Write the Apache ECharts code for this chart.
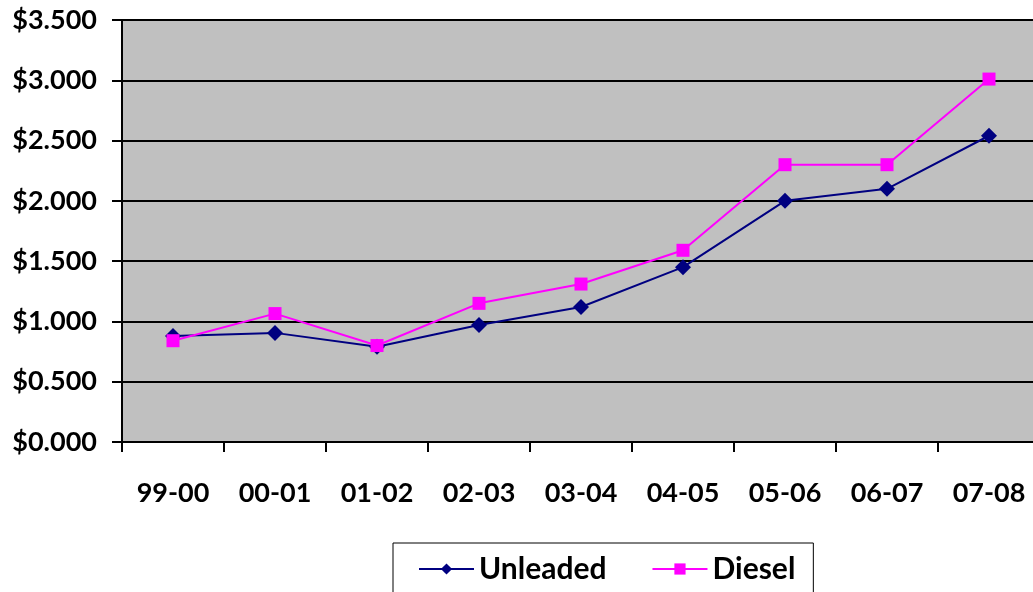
<!DOCTYPE html>
<html>
<head>
<meta charset="utf-8">
<script src="https://cdn.jsdelivr.net/npm/echarts@6/dist/echarts.min.js"></script>
<style>
  html, body { margin: 0; padding: 0; background: #fff; }
  #chart { width: 1033px; height: 592px; }
</style>
</head>
<body>
<div id="chart"></div>
<script>
const seasons = ['99-00', '00-01', '01-02', '02-03', '03-04', '04-05', '05-06', '06-07', '07-08']
const unleaded = [0.88, 0.905, 0.79, 0.97, 1.12, 1.45, 2.0, 2.1, 2.54]
const diesel = [0.84, 1.065, 0.80, 1.15, 1.31, 1.59, 2.30, 2.30, 3.01]
const yTicks = { min: 0, max: 3.5, step: 0.5 }

const font = 'Lato, "Open Sans", sans-serif'

const myChart = echarts.init(document.getElementById('chart'))

const option = {
  backgroundColor: '#fff',
  animation: false,
  grid: {
    left: 122,
    top: 20,
    width: 918,
    height: 422,
    outerBoundsMode: 'none',
    containLabel: false,
    show: true,
    backgroundColor: '#c0c0c0',
    borderColor: '#808080',
    borderWidth: 1
  },
  legend: {
    left: 393,
    top: 543,
    padding: [11, 18, 20, 25],
    itemWidth: 55,
    itemHeight: 14,
    itemGap: 45,
    borderColor: '#000',
    borderWidth: 1,
    textStyle: {
      fontFamily: font,
      fontWeight: 'bold',
      fontSize: 30,
      color: '#000'
    }
  },
  xAxis: {
    type: 'category',
    data: seasons,
    boundaryGap: true,
    axisLine: { lineStyle: { color: '#000', width: 2 } },
    axisTick: { show: true, length: 10, lineStyle: { color: '#000', width: 2 } },
    axisLabel: {
      interval: 0,
      margin: 38,
      fontFamily: font,
      fontWeight: 'bold',
      fontSize: 27,
      color: '#000'
    },
    splitLine: { show: false }
  },
  yAxis: {
    type: 'value',
    min: yTicks.min,
    max: yTicks.max,
    interval: yTicks.step,
    axisLine: { show: true, lineStyle: { color: '#000', width: 2 } },
    axisTick: { show: true, length: 10, lineStyle: { color: '#000', width: 2 } },
    axisLabel: {
      margin: 25,
      fontFamily: font,
      fontWeight: 'bold',
      fontSize: 27,
      color: '#000',
      formatter: v => '$' + v.toFixed(3)
    },
    splitLine: { show: true, lineStyle: { color: '#000', width: 2 } }
  },
  series: [
    {
      name: 'Unleaded',
      type: 'line',
      data: unleaded,
      symbol: 'diamond',
      symbolSize: 16,
      showAllSymbol: true,
      itemStyle: { color: '#000080' },
      lineStyle: { color: '#000080', width: 2 }
    },
    {
      name: 'Diesel',
      type: 'line',
      data: diesel,
      symbol: 'rect',
      symbolSize: 13,
      showAllSymbol: true,
      itemStyle: { color: '#ff00ff' },
      lineStyle: { color: '#ff00ff', width: 2 }
    }
  ]
}

myChart.setOption(option)
</script>
</body>
</html>
